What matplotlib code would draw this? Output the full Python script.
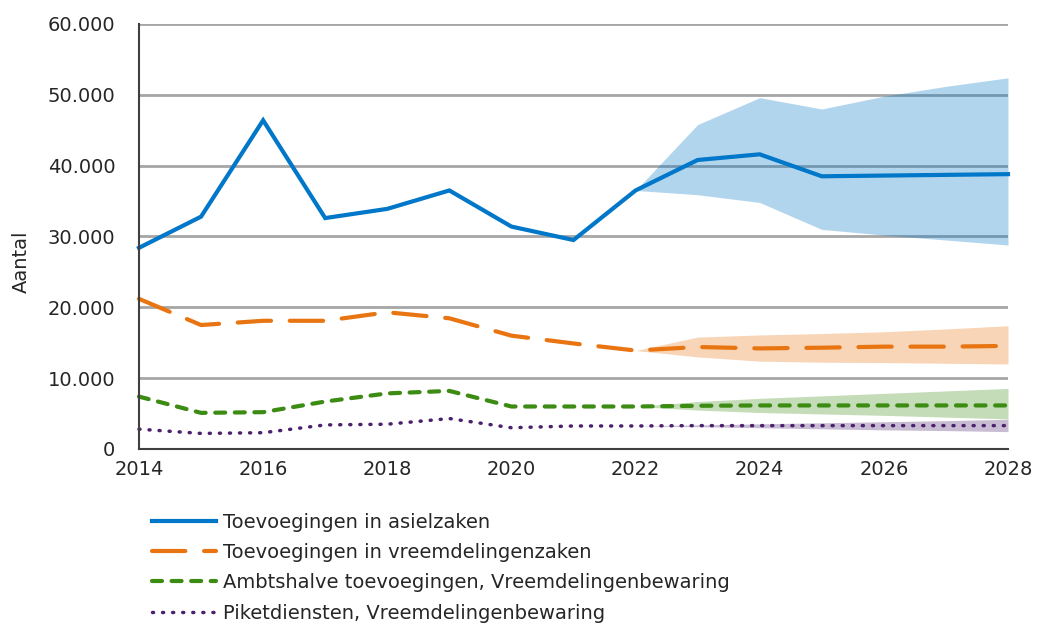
import matplotlib
matplotlib.use("Agg")
import matplotlib.pyplot as plt
from matplotlib.ticker import FuncFormatter

years = list(range(2014, 2029))
band_years = list(range(2022, 2029))

asiel = [28400, 32800, 46400, 32600, 33900, 36500, 31400, 29500, 36500,
         40800, 41600, 38500, 38600, 38700, 38800]
asiel_hi = [36500, 45800, 49600, 48000, 49800, 51200, 52400]
asiel_lo = [36500, 35900, 34800, 31000, 30200, 29500, 28800]

vreemd = [21200, 17500, 18100, 18100, 19300, 18450, 16000, 14900, 13900,
          14400, 14200, 14300, 14450, 14450, 14550]
vreemd_hi = [13900, 15800, 16100, 16300, 16550, 16950, 17400]
vreemd_lo = [13900, 13000, 12400, 12250, 12200, 12100, 12000]

ambts = [7400, 5100, 5200, 6700, 7850, 8200, 6000, 6000, 6000,
         6100, 6150, 6150, 6150, 6150, 6150]
ambts_hi = [6000, 6700, 7150, 7500, 7850, 8200, 8550]
ambts_lo = [6000, 5500, 5150, 4950, 4750, 4500, 4250]

piket = [2800, 2200, 2300, 3400, 3500, 4300, 3000, 3250, 3250,
         3300, 3300, 3300, 3300, 3300, 3300]
piket_hi = [3250, 3400, 3550, 3700, 3850, 4000, 4200]
piket_lo = [3250, 3150, 3000, 2850, 2700, 2600, 2450]

labels = ["Toevoegingen in asielzaken",
          "Toevoegingen in vreemdelingenzaken",
          "Ambtshalve toevoegingen, Vreemdelingenbewaring",
          "Piketdiensten, Vreemdelingenbewaring"]

c_blue = "#0077c8"
c_orange = "#e87511"
c_green = "#3c8c14"
c_purple = "#4b216e"
c_text = "#262626"

plt.rcParams["font.family"] = ["DejaVu Sans"]

fig = plt.figure(figsize=(10.41, 6.23), dpi=100)
ax = fig.add_axes([0.1335, 0.2793, 0.8348, 0.6822])

ax.set_xlim(2014, 2028)
ax.set_ylim(0, 60000)
ax.set_yticks(range(0, 60001, 10000))
ax.set_xticks(range(2014, 2029, 2))
ax.yaxis.set_major_formatter(FuncFormatter(lambda v, p: f"{int(v):,}".replace(",", ".")))
ax.grid(axis="y", color="#a6a6a6", linewidth=2)
ax.set_axisbelow(True)
ax.tick_params(length=0, labelsize=14, colors=c_text)
ax.tick_params(axis="y", pad=17)
ax.tick_params(axis="x", pad=8)
for s in ("top", "right"):
    ax.spines[s].set_visible(False)
for s in ("left", "bottom"):
    ax.spines[s].set_color("#404040")
    ax.spines[s].set_linewidth(1.5)
ax.set_ylabel("Aantal", fontsize=14, color=c_text)
ax.yaxis.set_label_coords(-0.124, 0.44)

ax.fill_between(band_years, asiel_lo, asiel_hi, color=c_blue, alpha=0.3, linewidth=0)
ax.fill_between(band_years, vreemd_lo, vreemd_hi, color=c_orange, alpha=0.3, linewidth=0)
ax.fill_between(band_years, ambts_lo, ambts_hi, color=c_green, alpha=0.3, linewidth=0)
ax.fill_between(band_years, piket_lo, piket_hi, color=c_purple, alpha=0.3, linewidth=0)

l1, = ax.plot(years, asiel, color=c_blue, linewidth=3, solid_joinstyle="miter")
l2, = ax.plot(years, vreemd, color=c_orange, linewidth=3, dashes=(8, 4.5),
              dash_capstyle="round")
l3, = ax.plot(years, ambts, color=c_green, linewidth=3, dashes=(2.4, 2.3),
              dash_capstyle="round")
l4, = ax.plot(years, piket, color=c_purple, linewidth=2.5, dashes=(0.3, 2.6),
              dash_capstyle="round")
for ln in (l1, l2, l3, l4):
    ln.set_clip_on(False)

fig.legend([l1, l2, l3, l4], labels, loc="upper left",
           bbox_to_anchor=(0.146, 0.177), frameon=False, fontsize=14,
           handlelength=3.3, handletextpad=0.35, labelspacing=0.58,
           borderpad=0, borderaxespad=0, labelcolor=c_text)

fig.savefig("out.png", dpi=100)
